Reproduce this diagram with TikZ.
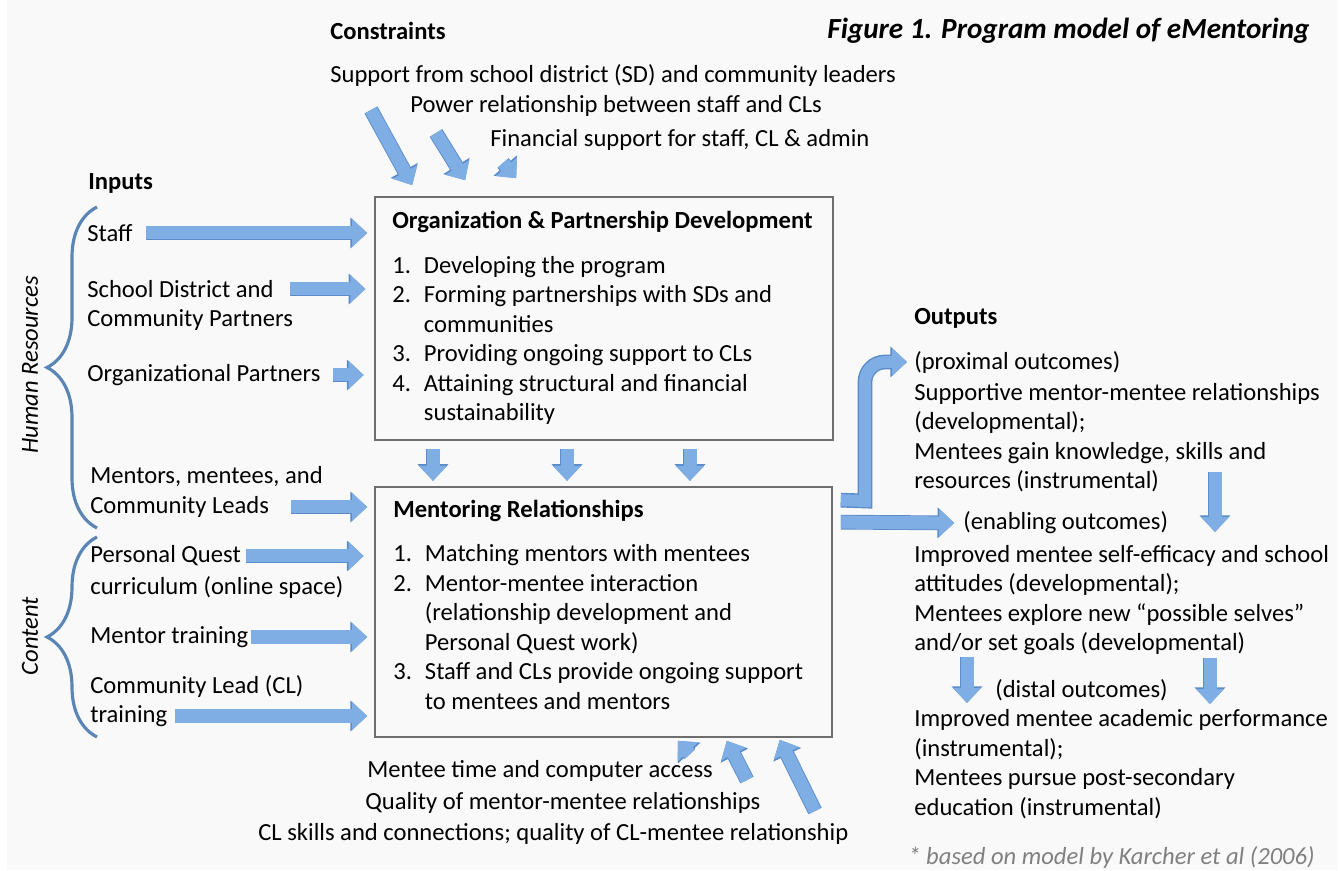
\documentclass[tikz,border=0pt]{standalone}
\usepackage{fontspec}
\setmainfont{Carlito}
\usetikzlibrary{arrows.meta, decorations.pathreplacing}
\definecolor{PageGray}{HTML}{F9F9F9}
\definecolor{ArrowFill}{HTML}{7EAEE4}
\definecolor{ArrowEdge}{HTML}{5B8BC9}
\definecolor{BraceBlue}{HTML}{5A85B5}
\definecolor{BoxLine}{HTML}{6E6E6E}
\definecolor{NoteGray}{HTML}{808080}
\newcommand{\txt}{\fontsize{14}{16.8}\selectfont}
\newcommand{\steps}[1]{\begin{tabular}{@{}p{18pt}@{}l@{}}#1\end{tabular}}

\begin{document}
\begin{tikzpicture}[
    x=0.02cm, y=0.02cm, font=\txt,
    lbl/.style={anchor=west, inner sep=0pt, align=left},
    hd/.style={lbl, font=\txt\bfseries},
    stage/.style={draw=BoxLine, line width=1pt},
    flow/.style={line width=7.4pt, ArrowFill, -{Triangle[width=15.5pt,length=8.5pt]},
                 preaction={draw=ArrowEdge, line width=8.4pt, -{Triangle[width=17pt,length=9.5pt]}}},
    hrbrace/.style={decorate, decoration={brace, amplitude=1cm}, BraceBlue, line width=1.8pt},
    side/.style={rotate=90, inner sep=0pt, font=\txt\itshape},
  ]
    % ---- page ----
    \fill[PageGray] (7,0) rectangle (1337,-870);
    \useasboundingbox (0,0) rectangle (1340,-871);
    % ---- constraints ----
    \node[hd] (cons) at (330,-31) {Constraints};
    \node[anchor=east, inner sep=0pt, font=\fontsize{16.6}{19}\selectfont\bfseries\itshape] (fig) at (1310,-31)
      {Figure 1. Program model of eMentoring};
    \node[lbl] (csd)  at (330,-75)  {Support from school district (SD) and community leaders};
    \node[lbl] (cpow) at (410,-106) {Power relationship between staff and CLs};
    \node[lbl] (cfin) at (490,-140) {Financial support for staff, CL \& admin};
    % ---- the two stages ----
    \node[stage, minimum width=9.16cm, minimum height=4.86cm] (org) at (604,-318.5) {};
    \node[stage, minimum width=9.14cm, minimum height=5cm]    (mr)  at (603.5,-612) {};
    \node[hd]  (orgt) at (392,-222) {Organization \& Partnership Development};
    \node[lbl] (orgl) at (392,-341) {\steps{1.& Developing the program\\ 2.& Forming partnerships with SDs and\\
      & communities\\ 3.& Providing ongoing support to CLs\\ 4.& Attaining structural and financial\\ & sustainability}};
    \node[hd]  (mrt) at (393,-511) {Mentoring Relationships};
    \node[lbl] (mrl) at (393,-629.5) {\steps{1.& Matching mentors with mentees\\ 2.& Mentor-mentee interaction\\
      & (relationship development and\\ & Personal Quest work)\\ 3.& Staff and CLs provide ongoing support\\
      & to mentees and mentors}};
    % ---- inputs ----
    \node[hd]  (inp)  at (88,-183) {Inputs};
    \node[lbl] (staff) at (87,-233) {Staff};
    \node[lbl] (sd1)  at (87,-289) {School District and};
    \node[lbl] (sd2)  at (87,-320) {Community Partners};
    \node[lbl] (orgp) at (87,-375) {Organizational Partners};
    \node[lbl] (mm1)  at (90,-477) {Mentors, mentees, and};
    \node[lbl] (mm2)  at (90,-507) {Community Leads};
    \node[lbl] (pq1)  at (90,-556) {Personal Quest};
    \node[lbl] (pq2)  at (90,-587) {curriculum (online space)};
    \node[lbl] (mtr)  at (90,-637) {Mentor training};
    \node[lbl] (cl1)  at (90,-686) {Community Lead (CL)};
    \node[lbl] (cl2)  at (90,-716) {training};
    \node[side] (hr)   at (30,-365) {Human Resources};
    \node[side] (cont) at (30,-636) {Content};
    \draw[hrbrace] (97,-528) -- (97,-207);
    \draw[hrbrace] (97,-737) -- (97,-537);
    % ---- bottom constraints ----
    \node[lbl] (bmt) at (367,-771) {Mentee time and computer access};
    \node[lbl] (bq)  at (365,-803) {Quality of mentor-mentee relationships};
    \node[lbl] (bcl) at (258,-834) {CL skills and connections; quality of CL-mentee relationship};
    % ---- outputs ----
    \node[hd]  (outp) at (914,-318) {Outputs};
    \node[lbl] (prox) at (914,-362) {(proximal outcomes)};
    \node[lbl] (o1)   at (914,-437.5) {Supportive mentor-mentee relationships\\(developmental);\\
      Mentees gain knowledge, skills and\\resources (instrumental)};
    \node[lbl] (enab) at (963,-523) {(enabling outcomes)};
    \node[lbl] (o2)   at (914,-600) {Improved mentee self-efficacy and school\\attitudes (developmental);\\
      Mentees explore new “possible selves”\\and/or set goals (developmental)};
    \node[lbl] (dist) at (995,-690) {(distal outcomes)};
    \node[lbl] (o3)   at (914,-764) {Improved mentee academic performance\\(instrumental);\\
      Mentees pursue post-secondary\\education (instrumental)};
    \node[anchor=east, inner sep=0pt, font=\txt\itshape, NoteGray] (note) at (1315,-857)
      {* based on model by Karcher et al (2006)};
    % ---- free ends ----
    \coordinate (k1) at (371,-110);
    \coordinate (k2) at (436,-133);
    \coordinate (k3) at (503,-163);
    \coordinate (u1) at (690,-754);
    \coordinate (u2) at (747,-780);
    \coordinate (u3) at (815,-811);
    \coordinate (g1) at (1215,-472);
    \coordinate (g1e) at (1215,-532);
    \coordinate (g2) at (967,-657);
    \coordinate (g2e) at (967,-703);
    \coordinate (g3) at (1210,-658);
    \coordinate (g3e) at (1210,-704);
    % ---- arrows into the first stage ----
    \draw[flow] (k1) -- ([shift={(38,11)}]org.north west);
    \draw[flow] (k2) -- ([shift={(91,16)}]org.north west);
    \draw[flow] (k3) -- ([shift={(142,18)}]org.north west);
    \draw[flow, shorten >=4pt] ([shift={(13,0)}]staff.east) -- (org.west |- staff);
    \draw[flow, shorten >=5pt] ([shift={(16,0)}]sd1.east)   -- (org.west |- sd1);
    \draw[flow, shorten >=6pt] ([shift={(12,0)}]orgp.east)  -- (org.west |- orgp);
    % ---- stage to stage ----
    \foreach \x in {433,567,690}
      \draw[flow, shorten <=4.5pt, shorten >=3pt] (\x,0 |- org.south) -- (\x,0 |- mr.north);
    % ---- arrows into the second stage ----
    \draw[flow, shorten >=4pt] ([shift={(22,0)}]mm2.east) -- (mr.west |- mm2);
    \draw[flow, shorten >=6pt] ([shift={(5,0)}]pq1.east)  -- (mr.west |- pq1);
    \draw[flow, shorten >=4pt] ([shift={(2,0)}]mtr.east)  -- (mr.west |- mtr);
    \draw[flow, shorten >=4pt] ([shift={(7,0)}]cl2.east)  -- (mr.west |- cl2);
    \draw[flow] (u1) -- ([shift={(-155,-3)}]mr.south east);
    \draw[flow] (u2) -- ([shift={(-106,-3)}]mr.south east);
    \draw[flow] (u3) -- ([shift={(-53,-2)}]mr.south east);
    % ---- outputs ----
    \draw[flow, line width=6.8pt, shorten >=4pt] ([shift={(8,-14)}]mr.north east) -- (865,-501) -- (865,-382)
      arc[start angle=180, end angle=90, radius=20] -- (prox.west);
    \draw[flow, shorten >=5pt] ([shift={(8,-36)}]mr.north east) -- (enab.west);
    \draw[flow] (g1) -- (g1e);
    \draw[flow] (g2) -- (g2e);
    \draw[flow] (g3) -- (g3e);
  \end{tikzpicture}
\end{document}
